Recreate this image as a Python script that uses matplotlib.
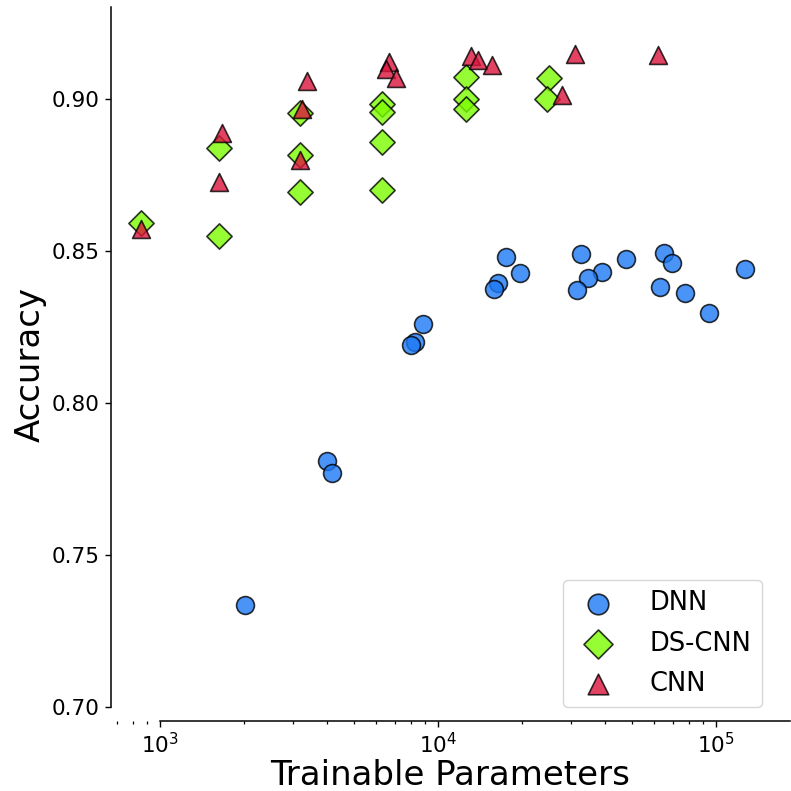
import matplotlib
matplotlib.use("Agg")
import matplotlib.pyplot as plt
from matplotlib.ticker import FormatStrFormatter

# ---- data ----
dnn_params = [17500, 19650, 16400, 15850, 32650, 47300, 39000, 34750, 31650,
              65200, 69300, 63100, 77300, 94000, 126800, 8825, 8290, 7965,
              4000, 4165, 2020]
dnn_acc = [0.8479, 0.8429, 0.8396, 0.8374, 0.8490, 0.8473, 0.8431, 0.8411, 0.8373,
           0.8494, 0.8460, 0.8381, 0.8361, 0.8297, 0.8441, 0.8260, 0.8202, 0.8191,
           0.7810, 0.7771, 0.7336]

dscnn_params = [853, 1630, 1630, 3190, 3190, 3190, 6300, 6300, 6300, 6300,
                12580, 12580, 12580, 25000, 24700]
dscnn_acc = [0.8591, 0.8549, 0.8838, 0.8953, 0.8816, 0.8693, 0.8984, 0.8958, 0.8858,
             0.8701, 0.9073, 0.9000, 0.8967, 0.9070, 0.9000]

cnn_params = [853, 1671, 1634, 3370, 3250, 3190, 6650, 6475, 7060,
              13150, 13960, 15600, 31000, 27900, 61850]
cnn_acc = [0.8571, 0.8889, 0.8727, 0.9059, 0.8969, 0.8799, 0.9121, 0.9099, 0.9068,
           0.9142, 0.9127, 0.9113, 0.9148, 0.9012, 0.9144]

series_names = ["DNN", "DS-CNN", "CNN"]
series_colors = ["#1d79f5", "lawngreen", "crimson"]
series_markers = ["o", "D", "^"]
y_ticks = [0.70, 0.75, 0.80, 0.85, 0.90]

# ---- figure ----
fig = plt.figure(figsize=(7.91, 7.91), dpi=100)
ax = fig.add_axes([111 / 791, 70 / 791, 679 / 791, 714 / 791])

data = [(dnn_params, dnn_acc), (dscnn_params, dscnn_acc), (cnn_params, cnn_acc)]
for (xs, ys), name, col, mk in zip(data, series_names, series_colors, series_markers):
    ax.scatter(xs, ys, s=165, c=col, marker=mk, alpha=0.8,
               edgecolors="black", linewidths=1.2, label=name, zorder=3)

ax.set_xscale("log")
ax.set_xlim(666, 1.846e5)
ax.set_ylim(0.6954, 0.9303)
ax.set_yticks(y_ticks)
ax.yaxis.set_major_formatter(FormatStrFormatter("%.2f"))

for s in ["top", "right"]:
    ax.spines[s].set_visible(False)
ax.spines["left"].set_bounds(0.70, 0.9303)
ax.spines["bottom"].set_bounds(1000, 1.846e5)
for s in ["left", "bottom"]:
    ax.spines[s].set_linewidth(1.1)

ax.tick_params(axis="both", which="major", labelsize=15.5, length=4.5, width=1.0)
ax.tick_params(axis="both", which="minor", length=2.5, width=0.9)

ax.set_xlabel("Trainable Parameters", fontsize=24.5, labelpad=1)
ax.set_ylabel("Accuracy", fontsize=24.5)

leg = ax.legend(loc="lower right", bbox_to_anchor=(0.9588, 0.0196),
                borderaxespad=0, fontsize=18.5, frameon=True,
                markerscale=1.15, handletextpad=1.0, labelspacing=0.55)
leg.get_frame().set_edgecolor("#cccccc")

fig.savefig("out.png", dpi=100)
